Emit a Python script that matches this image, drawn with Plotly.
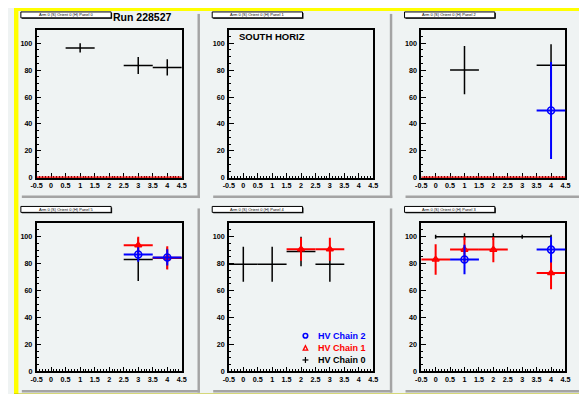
import plotly.graph_objects as go

W, H = 587, 394

# ---------------- data ----------------
bins = [0, 1, 2, 3, 4]
bin_half_width = 0.5

pad_titles = [
    "Arm 0 (S) Orient 0 (H) Panel 0",
    "Arm 0 (S) Orient 0 (H) Panel 1",
    "Arm 0 (S) Orient 0 (H) Panel 2",
    "Arm 0 (S) Orient 0 (H) Panel 5",
    "Arm 0 (S) Orient 0 (H) Panel 4",
    "Arm 0 (S) Orient 0 (H) Panel 3",
]

# HV Chain 0 (black)
chain0_p0 = [None, 96.5, None, 83.5, 82.0]
chain0_p0_err = [0, 3.5, 0, 6.3, 6.0]
chain0_p2 = [None, 80.0, None, None, 83.6]
chain0_p2_err = [0, 18.0, 0, 0, 15.7]
chain0_p5 = [None, None, None, 83.0, 84.0]
chain0_p5_err = [0, 0, 0, 16.0, 8.0]
chain0_p4 = [79.6, 79.6, 89.0, 79.6, None]
chain0_p4_err = [13.0, 13.0, 11.0, 13.0, 0]
chain0_p3 = [100, 100, 100, 100, 100]
chain0_p3_err = [1.5, 2.5, 2.5, 1.5, 1.5]

# HV Chain 1 (red)
chain1_p0 = [0, 0, 0, 0, 0]
chain1_p0_err = [0, 0, 0, 0, 0]
chain1_p2 = [0, 0, 0, 0, 0]
chain1_p2_err = [0, 0, 0, 0, 0]
chain1_p5 = [None, None, None, 93.6, 84.3]
chain1_p5_err = [0, 0, 0, 6.4, 8.6]
chain1_p4 = [None, None, 90.7, 90.7, None]
chain1_p4_err = [0, 0, 8.6, 8.6, 0]
chain1_p3 = [83.1, 90.4, 90.4, None, 73.0]
chain1_p3_err = [11.3, 9.6, 9.3, 0, 12.0]

# HV Chain 2 (blue)
chain2_p2 = [None, None, None, None, 50.0]
chain2_p2_err = [0, 0, 0, 0, 36.0]
chain2_p5 = [None, None, None, 86.8, 84.6]
chain2_p5_err = [0, 0, 0, 5.4, 6.0]
chain2_p3 = [None, 83.1, None, None, 90.4]
chain2_p3_err = [0, 11.0, 0, 0, 9.6]

x_tick_vals = [-0.5, 0, 0.5, 1, 1.5, 2, 2.5, 3, 3.5, 4, 4.5]
x_tick_text = ["-0.5", "0", "0.5", "1", "1.5", "2", "2.5", "3", "3.5", "4", "4.5"]
y_tick_vals = [0, 20, 40, 60, 80, 100]
y_tick_text = ["0", "20", "40", "60", "80", "100"]

legend_names = ["HV Chain 2", "HV Chain 1", "HV Chain 0"]
run_label = "Run 228527"
pad_label = "SOUTH HORIZ"

# pad contents: list of (values, errors, series-id)
pads = [
    [(chain0_p0, chain0_p0_err, 0), (chain1_p0, chain1_p0_err, 1)],
    [],
    [(chain0_p2, chain0_p2_err, 0), (chain1_p2, chain1_p2_err, 1), (chain2_p2, chain2_p2_err, 2)],
    [(chain0_p5, chain0_p5_err, 0), (chain1_p5, chain1_p5_err, 1), (chain2_p5, chain2_p5_err, 2)],
    [(chain0_p4, chain0_p4_err, 0), (chain1_p4, chain1_p4_err, 1)],
    [(chain0_p3, chain0_p3_err, 0), (chain1_p3, chain1_p3_err, 1), (chain2_p3, chain2_p3_err, 2)],
]
# pad 5 (bottom right) draws chain 0 as a connected graph without x errors
connected_black = [False, False, False, False, False, True]

# ---------------- layout geometry (pixels) ----------------
pad_cols = [(6, 187), (201, 383), (397, 580)]
pad_rows = [(4, 190), (201, 387)]
frame_cols = [(23, 171), (219, 366), (415, 562)]
frame_rows = [(22, 172), (218, 368)]

BG = "#eff3f3"
FONT = "Liberation Sans"
CLEAR = "rgba(0,0,0,0)"
series_style = {
    0: dict(color="black", thick=1.5, symbol="circle", size=1, show_marker=False),
    1: dict(color="#ff0000", thick=2, symbol="triangle-up-open", size=6, show_marker=True),
    2: dict(color="#0000ff", thick=2, symbol="circle-open", size=7, show_marker=True),
}


def px(x):
    return x / W


def py(y):
    return 1 - y / H


fig = go.Figure()
shapes = []
annotations = []

# canvas bevel
shapes += [
    dict(type="rect", xref="paper", yref="paper", x0=0, x1=1, y0=py(3), y1=1,
         fillcolor="#ffff00", line_width=0, layer="below"),
    dict(type="rect", xref="paper", yref="paper", x0=0, x1=px(4.5), y0=0, y1=1,
         fillcolor="#ffff00", line_width=0, layer="below"),
    dict(type="rect", xref="paper", yref="paper", x0=0, x1=1, y0=0, y1=py(390.5),
         fillcolor="#bcbc00", line_width=0, layer="below"),
    dict(type="rect", xref="paper", yref="paper", x0=px(582.5), x1=1, y0=0, y1=1,
         fillcolor="#bcbc00", line_width=0, layer="below"),
]

for i in range(6):
    r, c = divmod(i, 3)
    ax_id = "" if i == 0 else str(i + 1)
    xa, ya = "x" + ax_id, "y" + ax_id
    (fx0, fx1), (fy0, fy1) = frame_cols[c], frame_rows[r]
    (pxa, pxb), (pya, pyb) = pad_cols[c], pad_rows[r]

    # pad shadow
    shapes += [
        dict(type="rect", xref="paper", yref="paper", x0=px(pxb), x1=px(pxb + 2.5),
             y0=py(pyb + 2.5), y1=py(pya + 2), fillcolor="#a4a4a4", line_width=0, layer="below"),
        dict(type="rect", xref="paper", yref="paper", x0=px(pxa + 2), x1=px(pxb + 2.5),
             y0=py(pyb + 2.5), y1=py(pyb), fillcolor="#a4a4a4", line_width=0, layer="below"),
    ]
    # pad title box
    shapes += [
        dict(type="rect", xref="paper", yref="paper", x0=px(pxa + 2), x1=px(pxa + 94),
             y0=py(pya + 7), y1=py(pya + 1), fillcolor="black", line_width=0),
        dict(type="rect", xref="paper", yref="paper", x0=px(pxa + 1), x1=px(pxa + 93),
             y0=py(pya + 6), y1=py(pya), fillcolor="white", line=dict(color="black", width=1)),
    ]
    annotations.append(dict(xref="paper", yref="paper", x=px(pxa + 47), y=py(pya + 3),
                            text=pad_titles[i], showarrow=False,
                            font=dict(family=FONT, size=4, color="black"),
                            xanchor="center", yanchor="middle"))

    common = dict(showline=True, mirror=True, linecolor="black", linewidth=1.5,
                  showgrid=False, zeroline=False, ticks="inside", tickcolor="black",
                  ticklen=5, tickwidth=1, layer="below traces",
                  tickfont=dict(family=FONT, size=7.2, color="black", weight="bold"))
    fig.layout[("xaxis" + ax_id)] = dict(
        common, domain=[px(fx0), px(fx1)], anchor=ya, range=[-0.5, 4.5],
        tickmode="array", tickvals=x_tick_vals, ticktext=x_tick_text, tickangle=0,
        minor=dict(ticks="inside", dtick=0.1, tick0=0, ticklen=2.5, tickcolor="black", tickwidth=1),
        ticklabelstandoff=0)
    fig.layout[("yaxis" + ax_id)] = dict(
        common, domain=[py(fy1), py(fy0)], anchor=xa, range=[0, 110],
        tickmode="array", tickvals=y_tick_vals, ticktext=y_tick_text,
        minor=dict(ticks="inside", dtick=5, tick0=0, ticklen=2.5, tickcolor="black", tickwidth=1),
        ticklabelstandoff=1)

    if not pads[i]:
        # empty frame: an empty trace so the subplot axes are drawn
        fig.add_trace(go.Scatter(x=[], y=[], xaxis=xa, yaxis=ya, showlegend=False,
                                 mode="markers", hoverinfo="skip"))

    for vals, errs, sid in pads[i]:
        st = series_style[sid]
        xs = [b for b, v in zip(bins, vals) if v is not None]
        ys = [v for v in vals if v is not None]
        es = [e for e, v in zip(errs, vals) if v is not None]
        if sid == 0 and connected_black[i]:
            fig.add_trace(go.Scatter(
                x=xs, y=ys, mode="lines", xaxis=xa, yaxis=ya, showlegend=False,
                line=dict(color=st["color"], width=st["thick"]),
                error_y=dict(type="data", array=es, color=st["color"], thickness=st["thick"], width=0),
                hoverinfo="skip"))
            continue
        zero = all(v == 0 for v in ys)
        visible_marker = st["show_marker"] and not zero
        fig.add_trace(go.Scatter(
            x=xs, y=ys, mode="markers", xaxis=xa, yaxis=ya, showlegend=False,
            cliponaxis=not zero,
            marker=dict(symbol=st["symbol"] if visible_marker else "circle",
                        size=st["size"] if visible_marker else 1,
                        color=st["color"] if visible_marker else CLEAR,
                        line=dict(color=st["color"] if visible_marker else CLEAR, width=1.6)),
            error_x=dict(type="constant", value=bin_half_width, color=st["color"],
                         thickness=st["thick"] + (0.5 if zero else 0), width=0),
            error_y=dict(type="data", array=es, color=st["color"], thickness=st["thick"], width=0),
            hoverinfo="skip"))

# header texts
annotations.append(dict(xref="paper", yref="paper", x=px(130.5), y=py(9), text="<b>" + run_label + "</b>",
                        showarrow=False, font=dict(family=FONT, size=10.5, color="black"),
                        xanchor="center", yanchor="middle"))
annotations.append(dict(xref="paper", yref="paper", x=px(227), y=py(28.5), text="<b>" + pad_label + "</b>",
                        showarrow=False, font=dict(family=FONT, size=9.5, color="black"),
                        xanchor="left", yanchor="middle"))

# legend (in bottom-middle pad)
leg_colors = ["#0000ff", "#ff0000", "black"]
leg_y = [332, 344.5, 356.5]
mk_x = 297
for name, col, yy in zip(legend_names, leg_colors, leg_y):
    annotations.append(dict(xref="paper", yref="paper", x=px(308), y=py(yy), text="<b>" + name + "</b>",
                            showarrow=False, font=dict(family=FONT, size=9, color=col),
                            xanchor="left", yanchor="middle"))
# legend symbols
shapes.append(dict(type="circle", xref="paper", yref="paper", x0=px(mk_x - 2.3), x1=px(mk_x + 2.3),
                   y0=py(leg_y[0] + 2.3), y1=py(leg_y[0] - 2.3), line=dict(color="#0000ff", width=1.6)))
tri = "M {a},{b} L {c},{d} L {e},{f} Z".format(
    a=px(mk_x - 2.3), b=py(leg_y[1] + 2), c=px(mk_x + 2.3), d=py(leg_y[1] + 2),
    e=px(mk_x), f=py(leg_y[1] - 2.5))
shapes.append(dict(type="path", xref="paper", yref="paper", path=tri, line=dict(color="#ff0000", width=1.3)))
shapes.append(dict(type="line", xref="paper", yref="paper", x0=px(mk_x - 3), x1=px(mk_x + 3),
                   y0=py(leg_y[2]), y1=py(leg_y[2]), line=dict(color="black", width=1.2)))
shapes.append(dict(type="line", xref="paper", yref="paper", x0=px(mk_x), x1=px(mk_x),
                   y0=py(leg_y[2] - 3), y1=py(leg_y[2] + 3), line=dict(color="black", width=1.2)))

fig.update_layout(
    width=W, height=H, autosize=False,
    margin=dict(l=0, r=0, t=0, b=0, pad=0),
    paper_bgcolor=BG, plot_bgcolor=BG,
    showlegend=False,
    shapes=shapes, annotations=annotations,
    font=dict(family=FONT),
)

fig.write_html("out.html")
